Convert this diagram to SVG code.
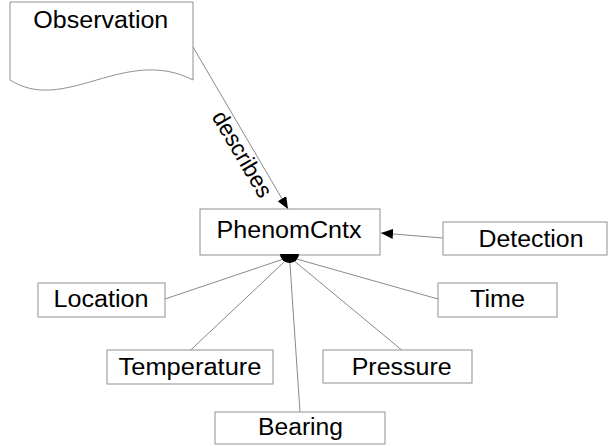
<svg xmlns="http://www.w3.org/2000/svg" width="610" height="448" viewBox="0 0 610 448">
  <style>
    .box { fill: #ffffff; stroke: #8f8f8f; stroke-width: 1; }
    .edge { fill: none; stroke: #8a8a8a; stroke-width: 1; }
    .lbl { font-family: "Liberation Sans", Arial, Helvetica, sans-serif; font-size: 23px; fill: #000000; text-anchor: middle; }
  </style>
  <defs>
    <marker id="arrow" markerUnits="userSpaceOnUse" markerWidth="12" markerHeight="10" refX="12" refY="5" orient="auto">
      <path d="M0,0 L12,5 L0,10 Z" fill="#000000"/>
    </marker>
  </defs>
  <rect width="610" height="448" fill="#ffffff"/>

  <!-- connectors -->
  <g id="connectors">
    <path class="edge" d="M193,47 L288,209" marker-end="url(#arrow)"/>
    <path class="edge" d="M443,238 L381,233" marker-end="url(#arrow)"/>
    <path class="edge" d="M289.5,257 L165,299"/>
    <path class="edge" d="M289.5,257 L190.7,350"/>
    <path class="edge" d="M289.5,257 L300,412"/>
    <path class="edge" d="M289.5,257 L401.7,350"/>
    <path class="edge" d="M289.5,257 L438,299"/>
    <text class="lbl" transform="translate(242.5,154) rotate(59.6)" x="0" y="8" textLength="96" lengthAdjust="spacingAndGlyphs">describes</text>
  </g>

  <g id="observation">
    <path class="box" d="M10,2 H193 V80 C125,45 65,115 10,80 Z"/>
    <text class="lbl" x="100.8" y="28.3" textLength="135" lengthAdjust="spacingAndGlyphs">Observation</text>
  </g>

  <g id="phenomcntx">
    <rect class="box" x="200" y="209" width="180" height="46"/>
    <text class="lbl" x="289" y="238.3" textLength="145" lengthAdjust="spacingAndGlyphs">PhenomCntx</text>
    <!-- aggregation hub -->
    <path d="M280,254 A9.5,9 0 0 0 299,254 Z" fill="#000000"/>
  </g>

  <g id="detection">
    <rect class="box" x="443" y="222" width="164" height="33"/>
    <text class="lbl" x="531" y="246.7" textLength="105" lengthAdjust="spacingAndGlyphs">Detection</text>
  </g>

  <g id="location">
    <rect class="box" x="38" y="283" width="127" height="34"/>
    <text class="lbl" x="101" y="307.3" textLength="95" lengthAdjust="spacingAndGlyphs">Location</text>
  </g>

  <g id="time">
    <rect class="box" x="438" y="283" width="119" height="34"/>
    <text class="lbl" x="497.5" y="306.7" textLength="55" lengthAdjust="spacingAndGlyphs">Time</text>
  </g>

  <g id="temperature">
    <rect class="box" x="107" y="350" width="166" height="34"/>
    <text class="lbl" x="190" y="375" textLength="143" lengthAdjust="spacingAndGlyphs">Temperature</text>
  </g>

  <g id="pressure">
    <rect class="box" x="323" y="350" width="149" height="33"/>
    <text class="lbl" x="401.7" y="375" textLength="100" lengthAdjust="spacingAndGlyphs">Pressure</text>
  </g>

  <g id="bearing">
    <rect class="box" x="215" y="412" width="170" height="32"/>
    <text class="lbl" x="300.5" y="435" textLength="85" lengthAdjust="spacingAndGlyphs">Bearing</text>
  </g>
</svg>
